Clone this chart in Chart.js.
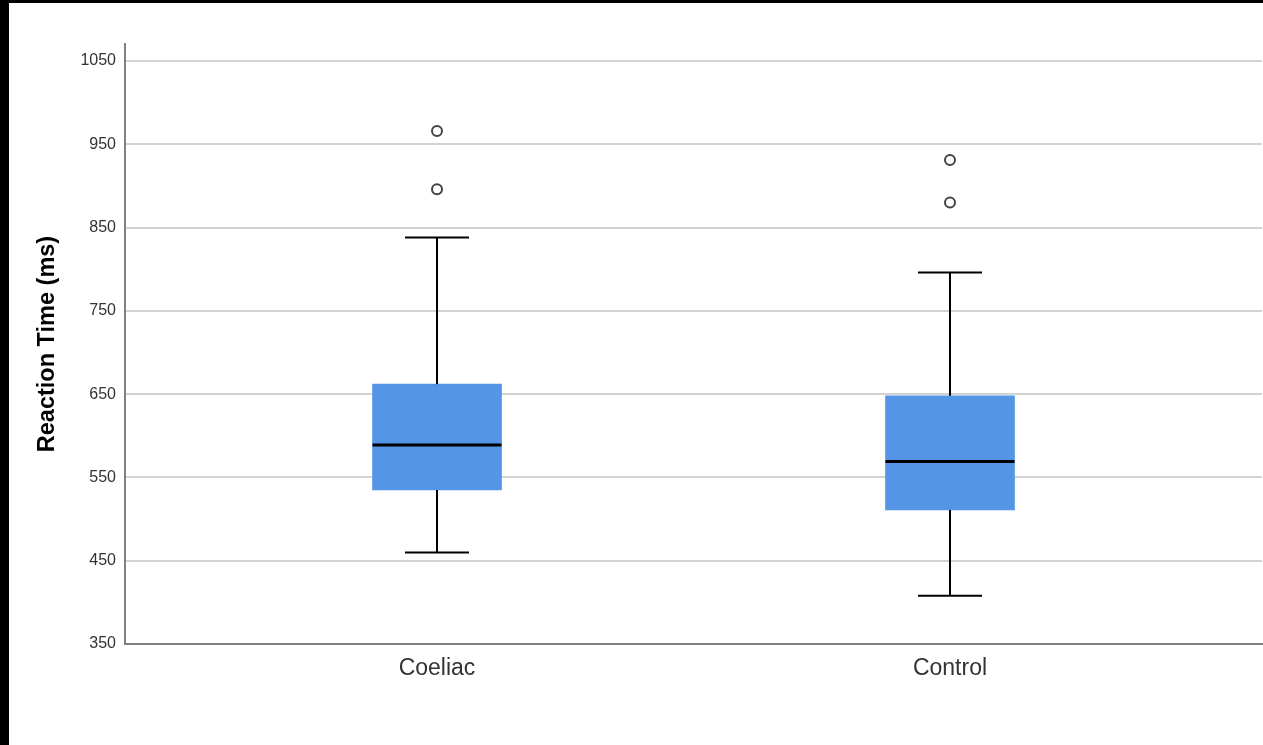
<!DOCTYPE html>
<html>
<head>
<meta charset="utf-8">
<title>Reaction Time by Group</title>
<script src="https://cdn.jsdelivr.net/npm/chart.js@4.4.1/dist/chart.umd.min.js"></script>
<style>
  html, body { margin: 0; padding: 0; background: #000; width: 1263px; height: 745px; overflow: hidden; }
  #wrap { position: absolute; left: 9px; top: 3px; width: 1254px; height: 742px; background: #fff; }
  #c { display: block; }
</style>
</head>
<body>
<div id="wrap"><canvas id="c" width="1254" height="742"></canvas></div>
<script>
// Box-plot summary per group (ms)
const groups = ['Coeliac', 'Control'];
const whiskerLow = [460, 408];
const q1 = [535, 511];
const median = [589, 569];
const q3 = [662, 648];
const whiskerHigh = [838, 796];
const outliers = [[896, 966], [880, 931]];
const yTicks = [350, 450, 550, 650, 750, 850, 950, 1050];

const BOX_HALF = 0.1257;   // half box width in category units
const CAP_HALF = 0.0624;   // half whisker-cap width

const FONT = "'Liberation Sans', Arial, Helvetica, sans-serif";

function segment(x1, y1, x2, y2, width) {
  return {
    type: 'line',
    data: [{ x: x1, y: y1 }, { x: x2, y: y2 }],
    borderColor: '#000',
    borderWidth: width,
    borderCapStyle: 'butt',
    pointRadius: 0,
    pointHoverRadius: 0,
    fill: false,
    tension: 0,
    order: 0
  };
}

const datasets = [];

// boxes (Q1..Q3)
datasets.push({
  type: 'bar',
  data: groups.map((g, i) => ({ x: i, y: [q1[i], q3[i]] })),
  backgroundColor: '#5595e5',
  borderWidth: 0,
  barThickness: 129,
  order: 5
});

groups.forEach((g, i) => {
  // median
  datasets.push(segment(i - BOX_HALF, median[i], i + BOX_HALF, median[i], 3));
  // whiskers
  datasets.push(segment(i, q3[i], i, whiskerHigh[i], 2));
  datasets.push(segment(i, q1[i], i, whiskerLow[i], 2));
  // caps
  datasets.push(segment(i - CAP_HALF, whiskerHigh[i], i + CAP_HALF, whiskerHigh[i], 2));
  datasets.push(segment(i - CAP_HALF, whiskerLow[i], i + CAP_HALF, whiskerLow[i], 2));
});

// outliers
datasets.push({
  type: 'scatter',
  data: outliers.flatMap((vals, i) => vals.map(v => ({ x: i, y: v }))),
  pointRadius: 5,
  pointHoverRadius: 5,
  borderColor: '#444',
  borderWidth: 2,
  backgroundColor: '#fff',
  order: 0
});

new Chart(document.getElementById('c'), {
  type: 'bar',
  data: { datasets },
  options: {
    responsive: false,
    animation: false,
    events: [],
    layout: { autoPadding: false, padding: { top: 41, right: 1, bottom: 0, left: 0 } },
    plugins: { legend: { display: false }, tooltip: { enabled: false } },
    scales: {
      x: {
        type: 'linear',
        min: -0.6082,
        max: 1.6082,
        offset: false,
        grid: { display: false, drawTicks: false },
        border: { display: true, color: '#808080', width: 2 },
        afterBuildTicks: s => { s.ticks = groups.map((g, i) => ({ value: i })); },
        afterFit: s => { s.height = 101; s.paddingLeft = 0; s.paddingRight = 0; },
        ticks: {
          callback: v => groups[v],
          color: '#333',
          padding: 11,
          maxRotation: 0,
          autoSkip: false,
          font: { family: FONT, size: 23 }
        }
      },
      y: {
        type: 'linear',
        min: 350,
        max: 1070.4,
        grid: { color: '#d3d3d3', lineWidth: 2, drawTicks: false },
        border: { display: true, color: '#808080', width: 2 },
        afterBuildTicks: s => { s.ticks = yTicks.map(v => ({ value: v })); },
        afterFit: s => { s.width = 116; },
        ticks: {
          callback: v => String(v),
          color: '#333',
          padding: 9,
          font: { family: FONT, size: 16 }
        },
        title: {
          display: true,
          text: 'Reaction Time (ms)',
          color: '#000',
          padding: { top: 24, bottom: 0 },
          font: { family: FONT, size: 23.5, weight: 'bold' }
        }
      }
    }
  }
});
</script>
</body>
</html>
